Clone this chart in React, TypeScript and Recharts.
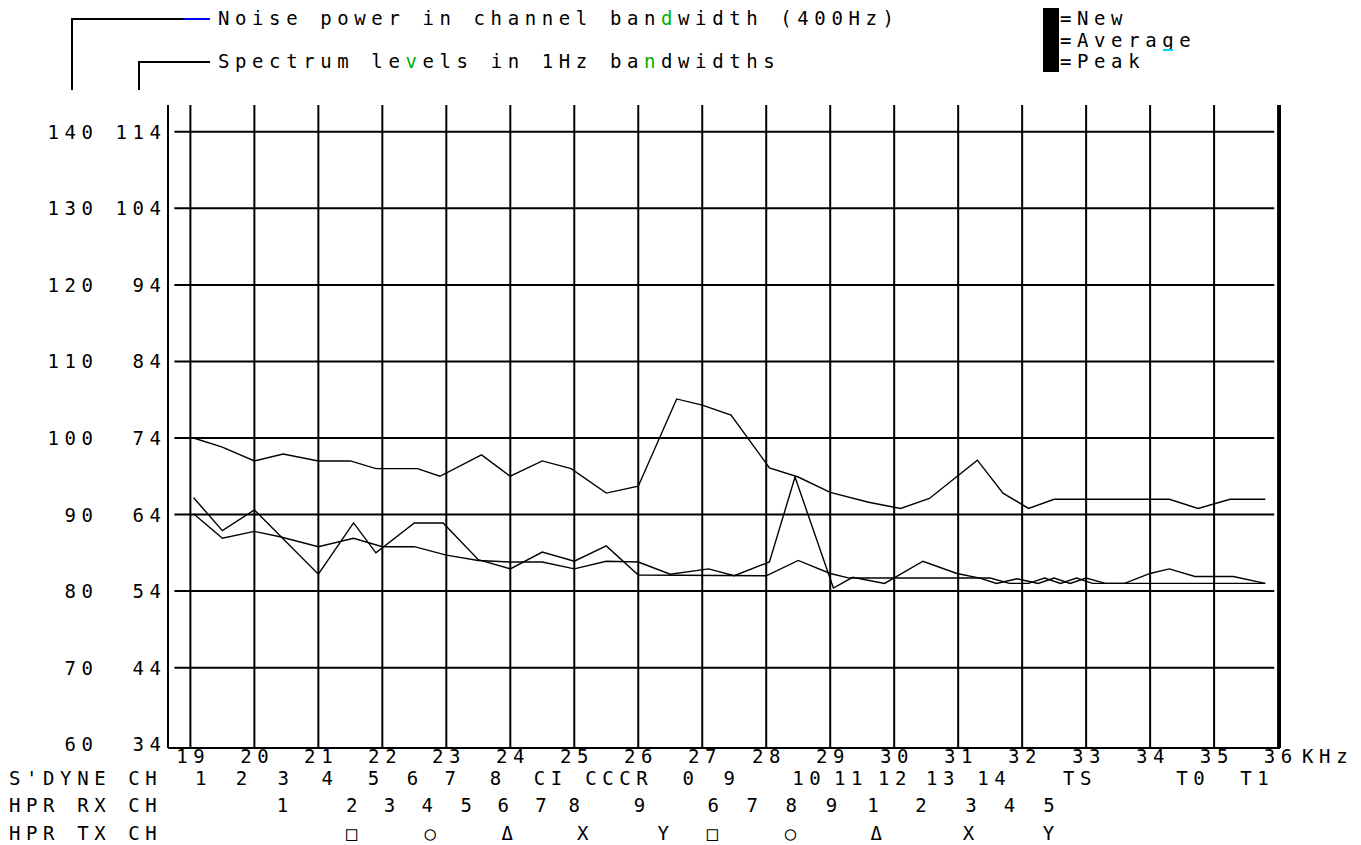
import { LineChart, Line, XAxis, YAxis, CartesianGrid, ReferenceLine } from 'recharts'

const W = 1361
const H = 845
const FONT = '"DejaVu Sans Mono", "Liberation Mono", monospace'
const FS = 19
const LS = 5.6 // wide plotter-style letter pitch
const INK = '#000'
const GREEN = '#00b000'

// axes: frequency (kHz) and the two level scales (same span, 26 dB apart)
const KHZ = [19, 20, 21, 22, 23, 24, 25, 26, 27, 28, 29, 30, 31, 32, 33, 34, 35, 36]
const SPEC = [34, 44, 54, 64, 74, 84, 94, 104, 114]
const NOISE = [60, 70, 80, 90, 100, 110, 120, 130, 140]
const X_DOMAIN: [number, number] = [18.65, 36.03]
const SPEC_DOMAIN: [number, number] = [33.5, 117.5]
const NOISE_DOMAIN: [number, number] = [59.5, 143.5]

// channel rows under the frequency axis
const SDYNE_AT = [19.16, 19.8, 20.45, 21.14, 21.86, 22.47, 23.06, 23.77, 24.59, 25.66, 26.78, 27.42, 28.63, 29.28, 29.97, 30.72, 31.52, 32.86, 34.63, 35.63]
const SDYNE_LABELS = ['1', '2', '3', '4', '5', '6', '7', '8', 'CI', 'CCCR', '0', '9', '10', '11', '12', '13', '14', 'TS', 'T0', 'T1']
const RX_AT = [20.44, 21.52, 22.11, 22.7, 23.31, 23.89, 24.48, 25.0, 26.02, 27.17, 27.78, 28.39, 29.02, 29.67, 30.42, 31.2, 31.8, 32.42]
const RX_LABELS = ['1', '2', '3', '4', '5', '6', '7', '8', '9', '6', '7', '8', '9', '1', '2', '3', '4', '5']
const TX_AT = [21.52, 22.75, 23.95, 25.13, 26.39, 27.16, 28.38, 29.72, 31.16, 32.41]
const TX_LABELS = ['□', '○', 'Δ', 'X', 'Y', '□', '○', 'Δ', 'X', 'Y']

const LEGEND = ['New', 'Average', 'Peak']

// spectrum levels, dB re 1Hz
const PEAK_KHZ = [19.05, 19.5, 20.0, 20.45, 21.0, 21.5, 21.9, 22.55, 22.9, 23.55, 24.0, 24.5, 24.95, 25.5, 26.0, 26.6, 27.0, 27.45, 28.05, 28.5, 29.0, 29.6, 30.1, 30.55, 31.3, 31.7, 32.1, 32.5, 34.3, 34.75, 35.25, 35.8]
const PEAK_DB = [74.0, 72.8, 71.0, 71.9, 71.0, 71.0, 70.0, 70.0, 69.0, 71.8, 69.0, 71.0, 70.0, 66.8, 67.7, 79.1, 78.3, 77.0, 70.1, 68.9, 66.9, 65.6, 64.8, 66.1, 71.1, 66.8, 64.8, 66.0, 66.0, 64.8, 66.0, 66.0]

const NEW_KHZ = [19.05, 19.5, 20.0, 21.0, 21.55, 21.9, 22.5, 22.95, 23.5, 24.0, 24.5, 25.0, 25.5, 26.0, 28.0, 28.5, 29.0, 29.3, 31.5, 31.8, 32.1, 32.35, 32.6, 32.85, 33.1, 35.8]
const NEW_DB = [66.2, 61.9, 64.6, 56.2, 62.9, 59.0, 62.9, 62.9, 58.1, 56.9, 59.1, 57.9, 59.9, 56.1, 56.0, 58.0, 56.3, 55.7, 55.7, 55.0, 55.0, 55.7, 55.0, 55.7, 55.0, 55.0]

const AVG_KHZ = [19.05, 19.5, 20.0, 20.4, 21.0, 21.55, 22.0, 22.5, 23.0, 23.5, 24.0, 24.5, 25.0, 25.5, 26.0, 26.5, 27.1, 27.5, 28.05, 28.45, 29.05, 29.35, 29.85, 30.45, 30.98, 31.34, 31.6, 31.92, 32.25, 32.5, 32.75, 33.0, 33.3, 33.6, 34.0, 34.3, 34.7, 35.3, 35.8]
const AVG_DB = [64.1, 60.9, 61.8, 61.1, 59.8, 60.9, 59.8, 59.8, 58.7, 58.0, 57.8, 57.8, 56.9, 57.9, 57.8, 56.2, 56.9, 56.0, 57.8, 68.9, 54.4, 55.8, 55.0, 57.9, 56.3, 55.7, 55.0, 55.6, 55.0, 55.7, 55.0, 55.7, 55.0, 55.0, 56.3, 56.9, 55.9, 55.9, 55.0]

const toRows = (f: number[], v: number[]) => f.map((x, i) => ({ f: x, v: v[i] }))
const peakData = toRows(PEAK_KHZ, PEAK_DB)
const newData = toRows(NEW_KHZ, NEW_DB)
const avgData = toRows(AVG_KHZ, AVG_DB)

// letter-spacing is added after the last glyph too, so shift anchored text back
function MonoText({ x, y, anchor = 'start', fill = INK, children }: any) {
  const dx = anchor === 'end' ? LS : anchor === 'middle' ? LS / 2 : 0
  return (
    <text x={x + dx} y={y} textAnchor={anchor} fontFamily={FONT} fontSize={FS} letterSpacing={LS} fill={fill}>
      {children}
    </text>
  )
}

function KhzTick({ x, y, payload }: any) {
  return (
    <g>
      <MonoText x={x} y={y + 15} anchor="middle">{payload.value}</MonoText>
      {payload.value === 36 && <MonoText x={x + 24} y={y + 15}>KHz</MonoText>}
    </g>
  )
}

const rowTick = (at: number[], labels: string[]) => ({ x, y, payload }: any) => (
  <MonoText x={x} y={y + 17} anchor="middle">{labels[at.indexOf(payload.value)]}</MonoText>
)

const rowTitle = (text: string) => (props: any) => (
  <MonoText x={9} y={(props.viewBox?.y ?? 0) + 17}>{text}</MonoText>
)

function LevelTick({ x, y, payload }: any) {
  return <MonoText x={x} y={y + 7} anchor="end">{payload.value}</MonoText>
}

// text with a few stray coloured glyphs, as on the original plot
function Spotted({ x, y, text, marks }: { x: number; y: number; text: string; marks: number[] }) {
  const parts: { s: string; c: string }[] = []
  let start = 0
  marks.forEach((m) => {
    parts.push({ s: text.slice(start, m), c: INK })
    parts.push({ s: text[m], c: GREEN })
    start = m + 1
  })
  parts.push({ s: text.slice(start), c: INK })
  return (
    <text x={x} y={y} fontFamily={FONT} fontSize={FS} letterSpacing={LS} style={{ whiteSpace: 'pre' }}>
      {parts.map((p, i) => <tspan key={i} fill={p.c}>{p.s}</tspan>)}
    </text>
  )
}

function Header() {
  return (
    <svg width={W} height={100} style={{ position: 'absolute', left: 0, top: 0 }}>
      <polyline points="72,90 72,19 184,19" fill="none" stroke={INK} strokeWidth={2} />
      <line x1={184} y1={19} x2={210} y2={19} stroke="#0000ff" strokeWidth={2} />
      <polyline points="139,90 139,62 210,62" fill="none" stroke={INK} strokeWidth={2} />
      <Spotted x={218} y={25} text="Noise power in channel bandwidth (400Hz)" marks={[26]} />
      <Spotted x={218} y={68} text="Spectrum levels in 1Hz bandwidths" marks={[11, 25]} />
      <rect x={1043} y={8} width={16} height={64} fill={INK} />
      {LEGEND.map((name, i) => (
        <MonoText key={name} x={1060} y={25 + i * 21.5}>={name}</MonoText>
      ))}
      <line x1={1163} y1={50} x2={1173} y2={50} stroke="#00d0ff" strokeWidth={2} />
    </svg>
  )
}

// axis ids are prefixed so they stack in the intended order (nearest the plot first)
export default function App() {
  return (
    <div style={{ position: 'absolute', left: 0, top: 0, width: W, height: H, background: '#fff' }}>
      <LineChart width={W} height={H} margin={{ top: 105, right: 81, bottom: 0, left: 0 }}>
        <XAxis xAxisId="a_khz" type="number" dataKey="f" domain={X_DOMAIN} ticks={KHZ} interval={0} allowDataOverflow
          height={20} tickLine={false} tickSize={0} tickMargin={0} tick={<KhzTick />} axisLine={{ stroke: INK, strokeWidth: 2 }} />
        <XAxis xAxisId="b_sdyne" type="number" dataKey="f" domain={X_DOMAIN} ticks={SDYNE_AT} interval={0} allowDataOverflow
          height={27} tickLine={false} tickSize={0} tickMargin={0} tick={rowTick(SDYNE_AT, SDYNE_LABELS)} axisLine={false}
          label={rowTitle("S'DYNE CH")} />
        <XAxis xAxisId="c_rx" type="number" dataKey="f" domain={X_DOMAIN} ticks={RX_AT} interval={0} allowDataOverflow
          height={28} tickLine={false} tickSize={0} tickMargin={0} tick={rowTick(RX_AT, RX_LABELS)} axisLine={false}
          label={rowTitle('HPR RX CH')} />
        <XAxis xAxisId="d_tx" type="number" dataKey="f" domain={X_DOMAIN} ticks={TX_AT} interval={0} allowDataOverflow
          height={22} tickLine={false} tickSize={0} tickMargin={0} tick={rowTick(TX_AT, TX_LABELS)} axisLine={false}
          label={rowTitle('HPR TX CH')} />
        <YAxis yAxisId="a_spec" type="number" domain={SPEC_DOMAIN} ticks={SPEC} interval={0} allowDataOverflow width={68}
          tickLine={false} tickSize={0} tickMargin={7} tick={<LevelTick />} axisLine={{ stroke: INK, strokeWidth: 2 }} />
        <YAxis yAxisId="b_noise" type="number" domain={NOISE_DOMAIN} ticks={NOISE} interval={0} allowDataOverflow width={100}
          tickLine={false} tickSize={0} tickMargin={7} tick={<LevelTick />} axisLine={false} />
        <CartesianGrid xAxisId="a_khz" yAxisId="a_spec" horizontal={false} stroke={INK} strokeWidth={2} />
        {SPEC.slice(1).map((t) => (
          <ReferenceLine key={t} xAxisId="a_khz" yAxisId="a_spec" stroke={INK} strokeWidth={2}
            segment={[{ x: 18.75, y: t }, { x: 35.94, y: t }]} />
        ))}
        <Line xAxisId="a_khz" yAxisId="a_spec" data={peakData} dataKey="v" name="Peak" type="linear" stroke={INK} strokeWidth={1.4} dot={false} isAnimationActive={false} />
        <Line xAxisId="a_khz" yAxisId="a_spec" data={avgData} dataKey="v" name="Average" type="linear" stroke={INK} strokeWidth={1.4} dot={false} isAnimationActive={false} />
        <Line xAxisId="a_khz" yAxisId="a_spec" data={newData} dataKey="v" name="New" type="linear" stroke={INK} strokeWidth={1.4} dot={false} isAnimationActive={false} />
      </LineChart>
      <Header />
    </div>
  )
}
